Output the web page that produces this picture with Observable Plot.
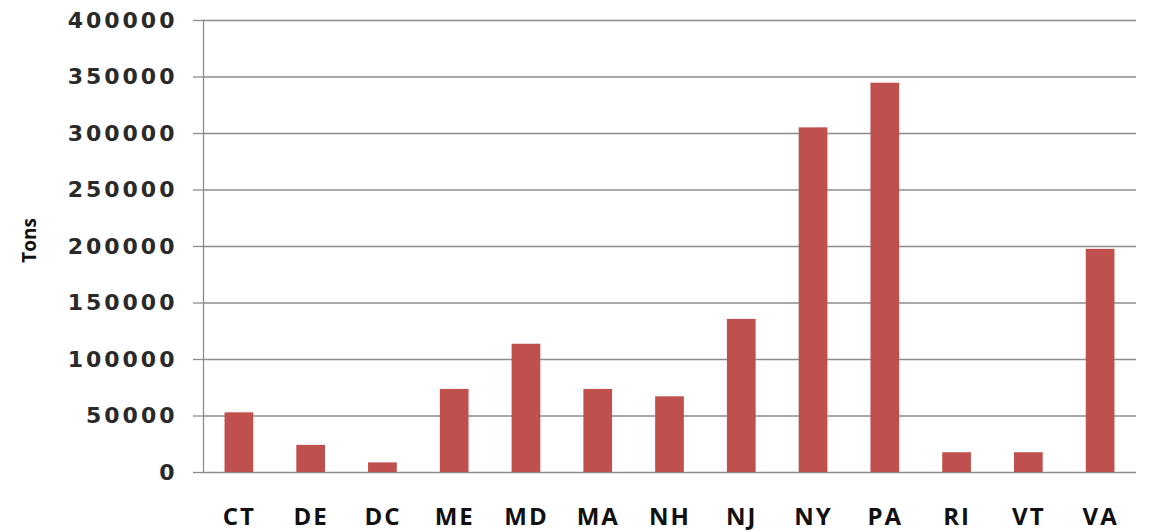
<!DOCTYPE html>
<html>
<head>
<meta charset="utf-8">
<script src="https://cdn.jsdelivr.net/npm/d3@7"></script>
<script src="https://cdn.jsdelivr.net/npm/@observablehq/plot@0.6"></script>
<style>
  html, body { margin: 0; padding: 0; background: #fff; }
  #chart { width: 1150px; height: 531px; }
  #chart svg [aria-label="y-axis tick label"] text { letter-spacing: 3px; }
  #chart svg [aria-label="x-axis tick label"] text { letter-spacing: 2px; }
</style>
</head>
<body>
<div id="chart"></div>
<script>
const states = ["CT", "DE", "DC", "ME", "MD", "MA", "NH", "NJ", "NY", "PA", "RI", "VT", "VA"];
const tons = [52800, 24000, 8500, 73500, 113500, 73500, 67000, 135500, 305000, 344500, 17500, 17500, 197500];
const yTicks = [0, 50000, 100000, 150000, 200000, 250000, 300000, 350000, 400000];
const yLabel = "Tons";

const data = states.map((s, i) => ({state: s, value: tons[i]}));

const chart = Plot.plot({
  width: 1150,
  height: 531,
  marginLeft: 203,
  marginRight: 14,
  marginTop: 20,
  marginBottom: 59,
  style: {background: "#fff", overflow: "visible"},
  x: {domain: states, paddingInner: 0.6, paddingOuter: 0.3, align: 0.5, round: false},
  y: {domain: [0, 400000], ticks: yTicks},
  marks: [
    Plot.ruleY(yTicks, {stroke: "#8c8c8c", strokeWidth: 1.3}),
    Plot.barY(data, {x: "state", y: "value", fill: "#C0504D"}),
    Plot.frame({anchor: "left", stroke: "#8c8c8c", strokeWidth: 1.3}),
    Plot.axisY({
      ticks: yTicks,
      tickSize: 10,
      tickPadding: 16,
      tickFormat: d => String(d),
      label: null,
      stroke: "#8c8c8c",
      strokeWidth: 1.3,
      fontSize: 22,
      fontWeight: "bold",
      fontFamily: "DejaVu Sans",
      fill: "#2a2a2a"
    }),
    Plot.axisX({
      tickSize: 0,
      tickPadding: 35,
      label: null,
      fontSize: 24,
      fontWeight: "bold",
      fontFamily: "Open Sans",
      fill: "#111"
    }),
    Plot.text([yLabel], {
      frameAnchor: "left",
      textAnchor: "middle",
      dx: -174,
      dy: -6,
      rotate: -90,
      fontSize: 19,
      fontWeight: "bold",
      fontFamily: "Open Sans",
      fill: "#111"
    })
  ]
});

document.getElementById("chart").appendChild(chart);
</script>
</body>
</html>
